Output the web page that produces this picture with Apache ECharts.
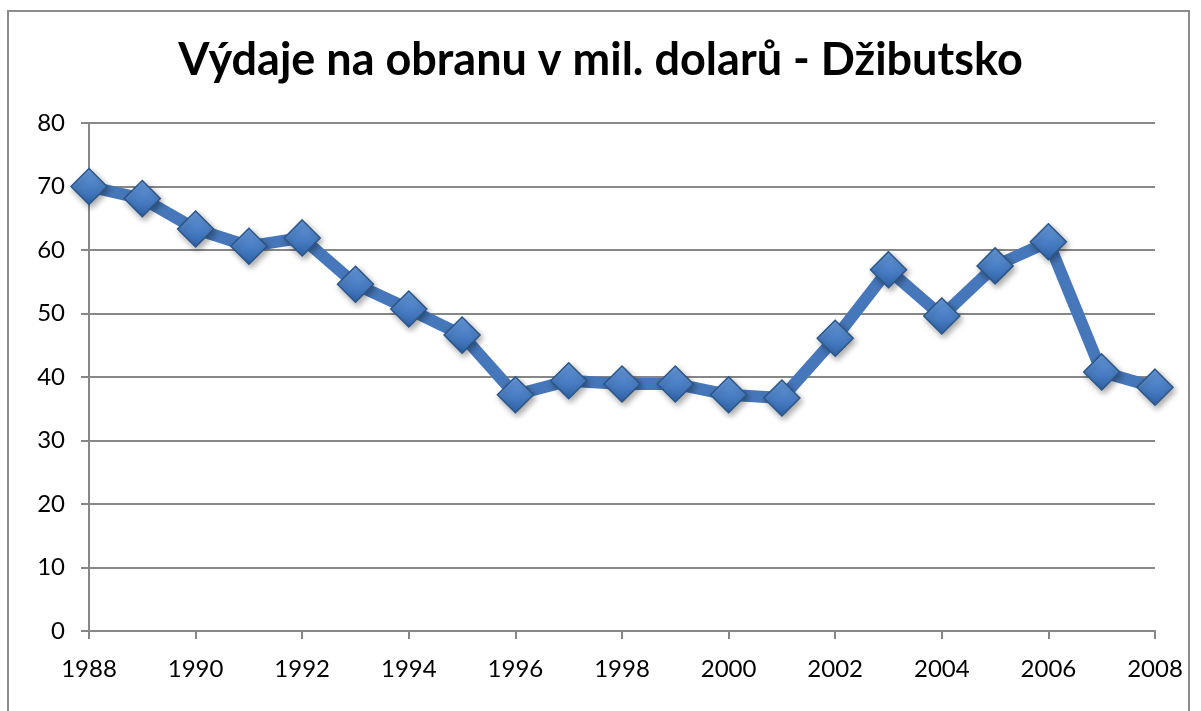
<!DOCTYPE html>
<html>
<head>
<meta charset="utf-8">
<script src="https://cdn.jsdelivr.net/npm/echarts@6/dist/echarts.min.js"></script>
<style>
html,body{margin:0;padding:0;background:#fff;}
#frame{position:absolute;left:7px;top:10px;width:1183px;height:720px;border:2px solid #8c8c8c;box-sizing:border-box;}
#c{position:absolute;left:0;top:0;width:1201px;height:711px;}
</style>
</head>
<body>
<div id="frame"></div>
<div id="c"></div>
<script>
const titleText = 'Výdaje na obranu v mil. dolarů - Džibutsko';
const years = ['1988','1989','1990','1991','1992','1993','1994','1995','1996','1997','1998','1999','2000','2001','2002','2003','2004','2005','2006','2007','2008'];
const spending = [70.0, 68.1, 63.3, 60.6, 61.9, 54.6, 50.7, 46.6, 37.2, 39.4, 38.9, 38.9, 37.2, 36.7, 46.1, 56.9, 49.6, 57.5, 61.3, 40.8, 38.4];
const yTicks = {min: 0, max: 80, interval: 10};

const chart = echarts.init(document.getElementById('c'));
chart.setOption({
  backgroundColor: 'transparent',
  animation: false,
  title: {
    text: titleText,
    left: 'center',
    top: 33,
    textStyle: {fontFamily: 'Lato', fontWeight: 'bold', fontSize: 45, color: '#000'}
  },
  grid: {left: 89, right: 46, top: 123, bottom: 80},
  xAxis: {
    type: 'category',
    data: years,
    boundaryGap: false,
    axisLine: {lineStyle: {color: '#878787', width: 2}},
    axisTick: {show: true, interval: 1, length: 8, lineStyle: {color: '#878787', width: 2}},
    axisLabel: {interval: 1, margin: 26, fontFamily: 'Lato', fontSize: 24, color: '#000'},
    splitLine: {show: false}
  },
  yAxis: {
    type: 'value',
    min: yTicks.min, max: yTicks.max, interval: yTicks.interval,
    axisLine: {show: true, lineStyle: {color: '#878787', width: 2}},
    axisTick: {show: true, inside: false, length: 8, lineStyle: {color: '#878787', width: 2}},
    axisLabel: {margin: 24, fontFamily: 'Lato', fontSize: 24, color: '#000'},
    splitLine: {lineStyle: {color: '#878787', width: 2}}
  },
  series: [{
    type: 'line',
    data: spending,
    symbol: 'diamond',
    symbolSize: 36,
    showAllSymbol: true,
    lineStyle: {color: '#4677BA', width: 12},
    itemStyle: {
      color: new echarts.graphic.LinearGradient(0, 0, 0, 1, [
        {offset: 0, color: '#6a9ee0'},
        {offset: 0.5, color: '#4b80c6'},
        {offset: 1, color: '#2f63a8'}
      ]),
      borderColor: '#2b5687',
      borderWidth: 1.5,
      shadowColor: 'rgba(0,0,0,0.35)',
      shadowBlur: 6,
      shadowOffsetX: 2,
      shadowOffsetY: 3
    }
  }]
});
</script>
</body>
</html>
